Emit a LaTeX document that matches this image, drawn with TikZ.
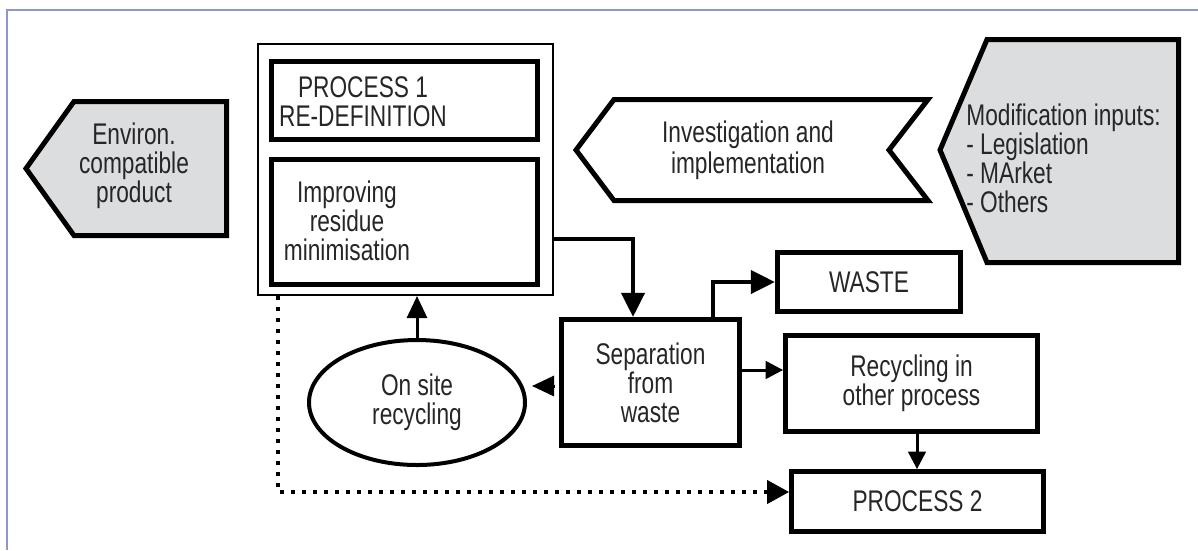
\documentclass[tikz,border=0pt]{standalone}
\usepackage{fontspec}
\setmainfont{Liberation Sans}[FakeStretch=0.76]
\usetikzlibrary{arrows.meta,shapes.geometric}
\definecolor{panelgrey}{RGB}{220,221,223}
\definecolor{frameblue}{RGB}{140,150,210}
\tikzset{
  blk/.style={draw=black,line width=0.95mm,rectangle,align=center},
  panel/.style={draw=black,line width=1mm},
  flow/.style={line width=0.8mm,-{Triangle[length=4.8mm,width=4.6mm]}},
  feed/.style={line width=0.6mm,-{Triangle[length=4.4mm,width=4mm]}},
  feedsmall/.style={line width=0.6mm,-{Triangle[length=3.5mm,width=3.5mm]}},
  dots/.style={line width=0.8mm,dash pattern=on 0.8mm off 1.4mm,-{Triangle[length=4.4mm,width=4.6mm]}}
}
\begin{document}
\begin{tikzpicture}[x=0.2mm,y=-0.2mm,
    every node/.style={inner sep=0pt,text=black!85,font=\fontsize{17}{16.5}\selectfont}]
  \useasboundingbox (0,0) rectangle (1198,550);
  \draw[frameblue,line width=0.3mm] (7,550) -- (7,10) -- (1198,10);
  \draw[panel,fill=panelgrey] (26,168.5) -- (74,101.5) -- (226.5,101.5) -- (226.5,235.5) -- (74,235.5) -- cycle;
  \draw[panel] (576,150) -- (614,99.5) -- (928,99.5) -- (889,150) -- (928,200.5) -- (614,200.5) -- cycle;
  \draw[panel,fill=panelgrey] (940,150) -- (987,39.5) -- (1178.5,39.5) -- (1178.5,262.5) -- (987,262.5) -- cycle;
  \node[align=center] (envtxt) at (134,165.5) {Environ.\\compatible\\product};
  \node[align=center,font=\fontsize{17}{17.6}\selectfont] (invtxt) at (748,150) {Investigation and\\implementation};
  \node[align=left,anchor=west] (modtxt) at (966,158) {Modification inputs:\\- Legislation\\- MArket\\- Others};
  \node[draw=black,line width=0.4mm,minimum width=59mm,minimum height=50.2mm] (procone) at (405.5,169.5) {};
  \node[blk,minimum width=53.2mm,minimum height=15.6mm] (procdef) at (404.5,100.5) {};
  \node[blk,minimum width=53.2mm,minimum height=25mm] (improve) at (404.5,222) {};
  \node[align=center,font=\fontsize{17}{16.5}\selectfont] (deftxt) at (363,102) {PROCESS 1\\RE-DEFINITION};
  \node[align=center] (imptxt) at (347,221) {Improving\\residue\\minimisation};
  \node[blk,minimum width=35.7mm,minimum height=25.3mm] (sep) at (650.5,382.5) {Separation\\from\\waste};
  \node[blk,minimum width=36.7mm,minimum height=11.9mm] (waste) at (869,282) {WASTE};
  \node[blk,minimum width=50.4mm,minimum height=19.2mm] (recyc) at (911.5,383.5) {Recycling in\\other process};
  \node[blk,minimum width=50.4mm,minimum height=12mm] (proc2) at (917.5,501.5) {PROCESS 2};
  \node[ellipse,draw=black,line width=0.8mm,align=center,minimum width=43.2mm,minimum height=25mm] (onsite) at (417,402.5) {On site\\recycling};
  \begin{scope}[flow]
    \draw (procone.east |- 0,239) -| (sep.north -| 633,0);
    \draw (sep.north -| 713,0) |- (waste.west);
  \end{scope}
  \begin{scope}[feed]
    \draw (onsite.north) -- (onsite.north |- procone.south);
    \draw[shorten <=0.8mm,shorten >=1mm] (sep.west |- 0,386) -- (onsite.east |- 0,386);
  \end{scope}
  \begin{scope}[feedsmall]
    \draw (sep.east |- 0,370) -- (recyc.west |- 0,370);
    \draw (recyc.south -| 917,0) -- (proc2.north -| 917,0);
  \end{scope}
  \draw[dots] (procone.south -| 278,0) |- (proc2.west |- 0,492);
\end{tikzpicture}
\end{document}
